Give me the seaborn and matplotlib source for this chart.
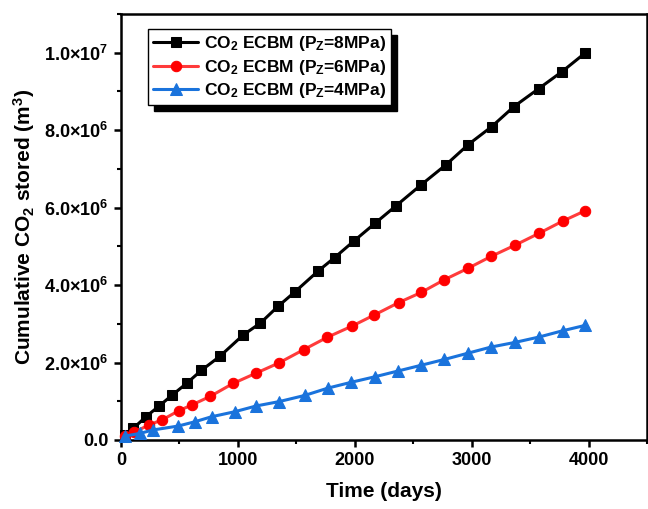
import matplotlib
matplotlib.use("Agg")
import matplotlib.pyplot as plt
from matplotlib.ticker import MultipleLocator, FuncFormatter
import seaborn as sns

# --- Data ---
days_8mpa = [34, 105, 213, 327, 438, 560, 688, 845, 1044, 1192, 1342, 1485, 1684,
             1826, 1988, 2173, 2352, 2566, 2779, 2969, 3168, 3359, 3569, 3769, 3966]
stored_8mpa = [0.13e6, 0.30e6, 0.60e6, 0.88e6, 1.16e6, 1.46e6, 1.80e6, 2.16e6, 2.71e6,
               3.02e6, 3.45e6, 3.82e6, 4.36e6, 4.71e6, 5.13e6, 5.60e6, 6.05e6, 6.59e6,
               7.11e6, 7.63e6, 8.09e6, 8.61e6, 9.07e6, 9.51e6, 9.99e6]

days_6mpa = [34, 111, 241, 352, 497, 603, 765, 958, 1158, 1350, 1560, 1762, 1974,
             2160, 2375, 2566, 2765, 2964, 3163, 3368, 3575, 3774, 3968]
stored_6mpa = [0.10e6, 0.20e6, 0.39e6, 0.52e6, 0.76e6, 0.90e6, 1.13e6, 1.46e6, 1.73e6,
               1.99e6, 2.33e6, 2.65e6, 2.94e6, 3.22e6, 3.55e6, 3.81e6, 4.14e6, 4.43e6,
               4.74e6, 5.03e6, 5.34e6, 5.65e6, 5.92e6]

days_4mpa = [34, 162, 276, 489, 631, 774, 973, 1158, 1350, 1570, 1769, 1968, 2167,
             2366, 2566, 2765, 2964, 3163, 3368, 3575, 3774, 3968]
stored_4mpa = [0.10e6, 0.17e6, 0.26e6, 0.36e6, 0.47e6, 0.60e6, 0.73e6, 0.88e6, 0.99e6,
               1.15e6, 1.34e6, 1.49e6, 1.63e6, 1.78e6, 1.93e6, 2.08e6, 2.24e6, 2.40e6,
               2.52e6, 2.66e6, 2.82e6, 2.96e6]

labels = [r"CO$_\mathbf{2}$ ECBM (P$_\mathbf{Z}$=8MPa)",
          r"CO$_\mathbf{2}$ ECBM (P$_\mathbf{Z}$=6MPa)",
          r"CO$_\mathbf{2}$ ECBM (P$_\mathbf{Z}$=4MPa)"]

# --- Style ---
sns.set_style("ticks")
plt.rcParams["font.family"] = ["Liberation Sans", "DejaVu Sans"]
plt.rcParams["font.weight"] = "bold"
plt.rcParams["mathtext.fontset"] = "custom"
plt.rcParams["mathtext.rm"] = "Liberation Sans:bold"
plt.rcParams["mathtext.bf"] = "Liberation Sans:bold"
plt.rcParams["mathtext.it"] = "Liberation Sans:bold"
for key in ["text.color", "axes.labelcolor", "xtick.color", "ytick.color", "axes.edgecolor"]:
    plt.rcParams[key] = "black"

fig = plt.figure(figsize=(6.48, 5.09), dpi=100)
ax = fig.add_axes([0.1867, 0.1356, 0.8125, 0.8369])

series = [
    (days_8mpa, stored_8mpa, "s", "black", "black", 7),
    (days_6mpa, stored_6mpa, "o", "#ff3b3b", "#ff0000", 7.5),
    (days_4mpa, stored_4mpa, "^", "#1a73dc", "#1a73dc", 8),
]
for (x, y, mk, lc, mc, ms), lab in zip(series, labels):
    sns.lineplot(x=x, y=y, ax=ax, color=lc, marker=mk, markersize=ms,
                 markerfacecolor=mc, markeredgecolor=mc, linewidth=2.2,
                 label=lab, clip_on=False, zorder=3)

ax.set_xlim(0, 4500)
ax.set_ylim(0, 1.1e7)
ax.xaxis.set_major_locator(MultipleLocator(1000))
ax.xaxis.set_minor_locator(MultipleLocator(500))
ax.yaxis.set_major_locator(MultipleLocator(2e6))
ax.yaxis.set_minor_locator(MultipleLocator(1e6))


def sci_fmt(v, pos):
    if v == 0:
        return "0.0"
    exp = int(f"{v:e}".split("e")[1])
    mant = v / 10 ** exp
    return f"{mant:.1f}×10$^{{\\mathbf{{{exp}}}}}$"


ax.yaxis.set_major_formatter(FuncFormatter(sci_fmt))

for s in ax.spines.values():
    s.set_linewidth(1.8)
    s.set_color("black")
ax.tick_params(which="major", direction="out", length=5, width=1.8,
               labelsize=13, pad=4, color="black", labelcolor="black")
ax.tick_params(which="minor", direction="out", length=3, width=1.5, color="black")
for t in ax.get_xticklabels() + ax.get_yticklabels():
    t.set_fontweight("bold")

ax.set_xlabel("Time (days)", fontsize=15, fontweight="bold", labelpad=9, color="black")
ax.set_ylabel(r"Cumulative CO$_\mathbf{2}$ stored (m$^\mathbf{3}$)",
              fontsize=15, fontweight="bold", labelpad=5, color="black")

leg = ax.legend(loc="upper left", bbox_to_anchor=(0.035, 0.985), fontsize=12.5,
                frameon=True, fancybox=False, handlelength=2.6,
                borderpad=0.3, labelspacing=0.25, handletextpad=0.3,
                shadow={"color": "black", "alpha": 1, "ox": 4, "oy": -4})
leg.get_frame().set_edgecolor("black")
leg.get_frame().set_linewidth(1.0)
leg.get_frame().set_alpha(1)
for t in leg.get_texts():
    t.set_fontweight("bold")
    t.set_color("black")

fig.savefig("out.png", dpi=100)
